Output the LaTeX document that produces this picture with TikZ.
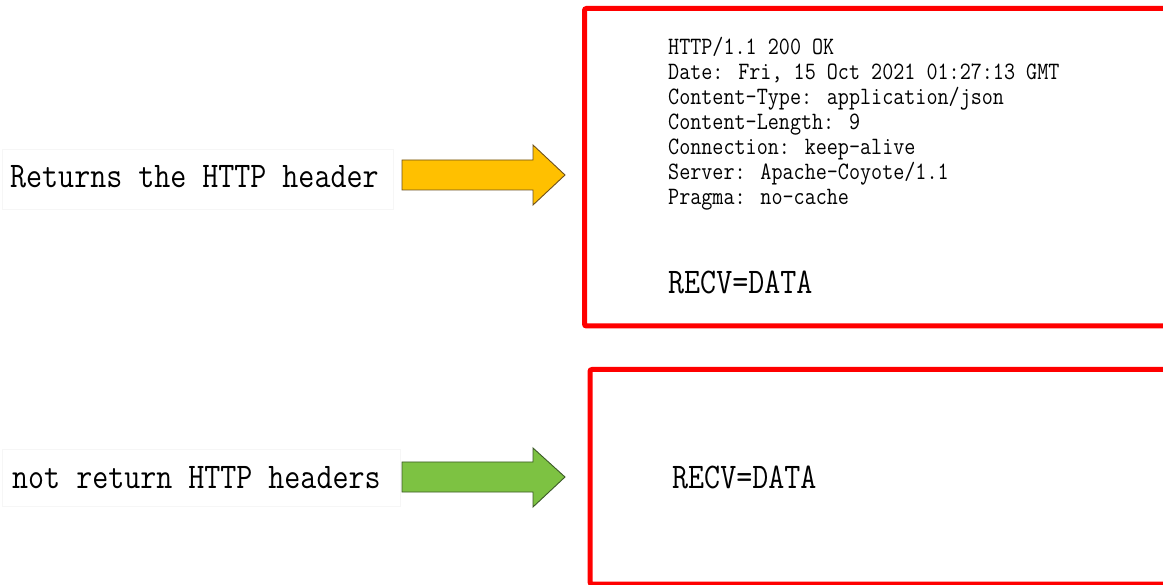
\documentclass[tikz,border=0pt]{standalone}
\usepackage{fontspec}
\definecolor{boxred}{RGB}{255,0,0}
\definecolor{arrowyellow}{RGB}{255,192,0}
\definecolor{arrowgreen}{RGB}{125,194,66}
\definecolor{yedge}{RGB}{110,80,30}
\definecolor{gedge}{RGB}{60,90,40}
\newcommand{\tall}[1]{\scalebox{1}[1.16]{#1}}
\tikzset{
  bigtext/.style={font=\ttfamily\fontsize{31.1}{34}\selectfont, inner sep=0pt, anchor=base west},
  hdrtext/.style={font=\ttfamily\fontsize{21.5}{24}\selectfont, inner sep=0pt, anchor=base west},
  labelframe/.style={draw=gray!7, line width=0.8pt, fill=white},
  redbox/.style={draw=boxred, line width=5pt, rounded corners=2pt},
}
\begin{document}
\begin{tikzpicture}[x=1pt, y=-1pt]
\useasboundingbox (0,0) rectangle (1163,585);
\clip (0,0) rectangle (1163,585);
\fill[white] (0,0) rectangle (1163,585);

% label frames
\draw[labelframe] (2,149) rectangle (393,209);
\draw[labelframe] (2,449) rectangle (400,506);

% labels
\node[bigtext] (lab1) at (10,188) {\tall{Returns the HTTP header}};
\node[bigtext] (lab2) at (12,488) {\tall{not return HTTP headers}};

% arrows
\draw[fill=arrowyellow, draw=yedge, line width=0.9pt, line join=miter]
  (402,160) -- (533,160) -- (533,145) -- (565,175) -- (533,205) -- (533,190) -- (402,190) -- cycle;
\draw[fill=arrowgreen, draw=gedge, line width=0.9pt, line join=miter]
  (402,462) -- (533,462) -- (533,448) -- (565,477) -- (533,507) -- (533,492) -- (402,492) -- cycle;

% red boxes
\draw[redbox] (584.5,8.5) rectangle (1175,326);
\draw[redbox] (590,369.5) rectangle (1175,584);

% header text
\foreach \t [count=\i] in {HTTP/1.1 200 OK, {Date: Fri, 15 Oct 2021 01:27:13 GMT}, Content-Type: application/json, Content-Length: 9, Connection: keep-alive, Server: Apache-Coyote/1.1, Pragma: no-cache}
  \node[hdrtext] (h\i) at (668,{55+25*(\i-1)}) {\tall{\t}};

\node[bigtext] (recv1) at (668,294) {\tall{RECV=DATA}};
\node[bigtext] (recv2) at (672,488) {\tall{RECV=DATA}};
\end{tikzpicture}
\end{document}
